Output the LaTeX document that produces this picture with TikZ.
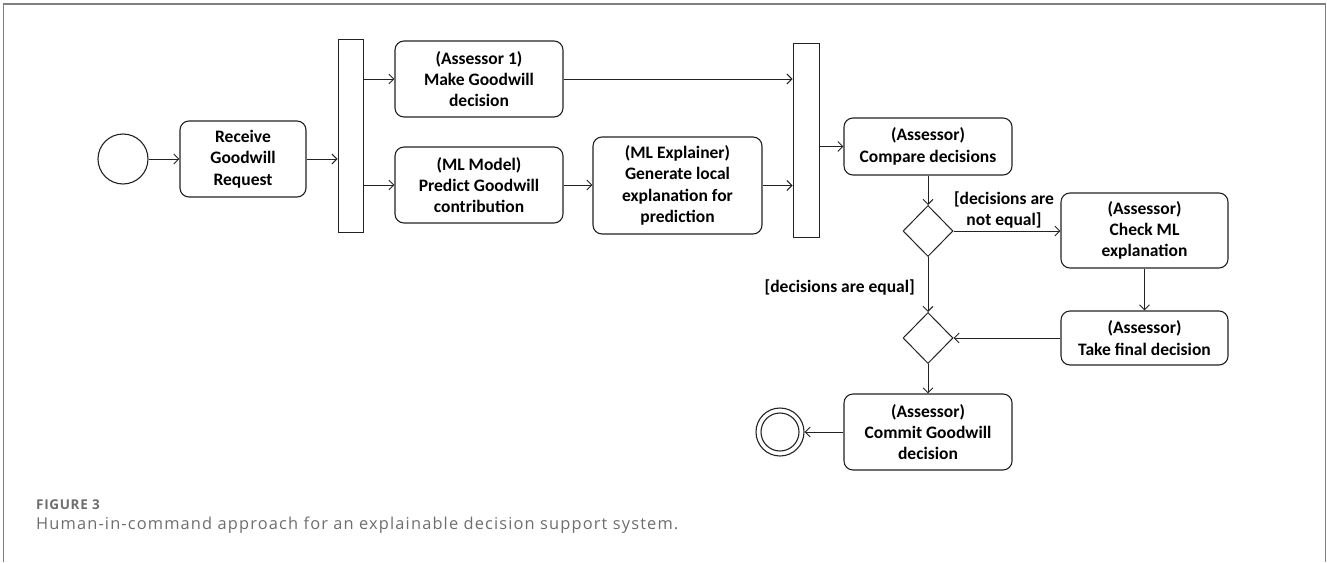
\documentclass[tikz,border=0pt]{standalone}
\usepackage{fontspec}
\setmainfont{Carlito}
\newfontfamily\capfont[LetterSpace=7]{Open Sans}
\newfontfamily\figfont[LetterSpace=5]{Open Sans}
\usetikzlibrary{shapes.geometric,arrows.meta}
\definecolor{framegray}{HTML}{808080}
\definecolor{capgray}{HTML}{6E6E6E}
\definecolor{linegray}{HTML}{222222}
\begin{document}
\begin{tikzpicture}[x=1pt,y=-1pt,
  act/.style={draw=linegray, line width=1.1pt, rounded corners=9pt, align=center,
    inner sep=0pt, font=\fontsize{17.5}{21.3}\selectfont\bfseries},
  bar/.style={draw=linegray, line width=1pt, inner sep=0pt},
  choice/.style={diamond, draw=linegray, line width=1pt, inner sep=0pt,
    minimum width=50pt, minimum height=51pt},
  flow/.style={draw=linegray, line width=0.9pt, -{Straight Barb[length=5pt,width=10pt]}},
  guard/.style={font=\fontsize{17.5}{21.3}\selectfont\bfseries, align=center, inner sep=0pt}]
\useasboundingbox (0,0) rectangle (1327,562);

% open frame around the figure
\draw[framegray, line width=1.6pt] (3.5,562) -- (3.5,4) -- (1325.5,4) -- (1325.5,562);

% initial and final nodes
\node[circle, draw=linegray, line width=1.1pt, minimum size=50pt, inner sep=0pt] (start) at (123,159) {};
\node[circle, draw=linegray, line width=1.1pt, minimum size=48pt, inner sep=0pt] (endc) at (780,432) {};
\node[circle, draw=linegray, line width=1.1pt, minimum size=38pt, inner sep=0pt] (endin) at (780,432) {};

% actions
\node[act, minimum width=126pt, minimum height=76pt] (recv) at (243,159) {Receive\\Goodwill\\Request};
\node[act, minimum width=168pt, minimum height=76pt] (ass1) at (479,79) {(Assessor 1)\\Make Goodwill\\decision};
\node[act, minimum width=168pt, minimum height=76pt] (mlm) at (479,185) {(ML Model)\\Predict Goodwill\\contribution};
\node[act, minimum width=169pt, minimum height=97pt] (mle) at (677.5,185.5) {(ML Explainer)\\Generate local\\explanation for\\prediction};
\node[act, minimum width=168pt, minimum height=57pt] (cmp) at (928,146.5) {(Assessor)\\Compare decisions};
\node[act, minimum width=167pt, minimum height=75pt] (chk) at (1144.5,230.5) {(Assessor)\\Check ML\\explanation};
\node[act, minimum width=167pt, minimum height=54pt] (tfd) at (1144.5,338) {(Assessor)\\Take final decision};
\node[act, minimum width=168pt, minimum height=76pt] (cmt) at (928,432) {(Assessor)\\Commit Goodwill\\decision};

% fork and join bars
\node[bar, minimum width=25pt, minimum height=193pt] (fork) at (350.5,135.5) {};
\node[bar, minimum width=26pt, minimum height=194pt] (join) at (806,140) {};

% decision and merge nodes
\node[choice] (dec) at (928,231) {};
\node[choice] (mrg) at (928,338) {};

% control flow
\draw[flow] (start.east) -- (recv.west);
\draw[flow] (recv.east) -- (recv.east -| fork.west);
\draw[flow] (fork.east |- ass1.west) -- (ass1.west);
\draw[flow] (fork.east |- mlm.west) -- (mlm.west);
\draw[flow] (mlm.east) -- (mlm.east -| mle.west);
\draw[flow] (ass1.east) -- (ass1.east -| join.west);
\draw[flow] (mle.east) -- (mle.east -| join.west);
\draw[flow] (join.east |- cmp.west) -- (cmp.west);
\draw[flow] (cmp.south) -- (dec.north);
\draw[flow] (dec.east) -- (dec.east -| chk.west);
\draw[flow] (dec.south) -- (mrg.north);
\draw[flow] (chk.south) -- (tfd.north);
\draw[flow] (tfd.west) -- (mrg.east);
\draw[flow] (mrg.south) -- (cmt.north);
\draw[flow] (cmt.west) -- (endc.east);

% guards
\node[guard] (gne) at (1004,210) {[decisions are\\not equal]};
\node[guard, anchor=east] (geq) at (915,287) {[decisions are equal]};

% caption
\node[anchor=base west, inner sep=0pt, text=capgray, font=\figfont\bfseries\fontsize{13.5}{15}\selectfont] (fig) at (36,509) {FIGURE 3};
\node[anchor=base west, inner sep=0pt, text=capgray, font=\capfont\fontsize{16.4}{19}\selectfont] (cap) at (36,529) {Human-in-command approach for an explainable decision support system.};
\end{tikzpicture}
\end{document}
